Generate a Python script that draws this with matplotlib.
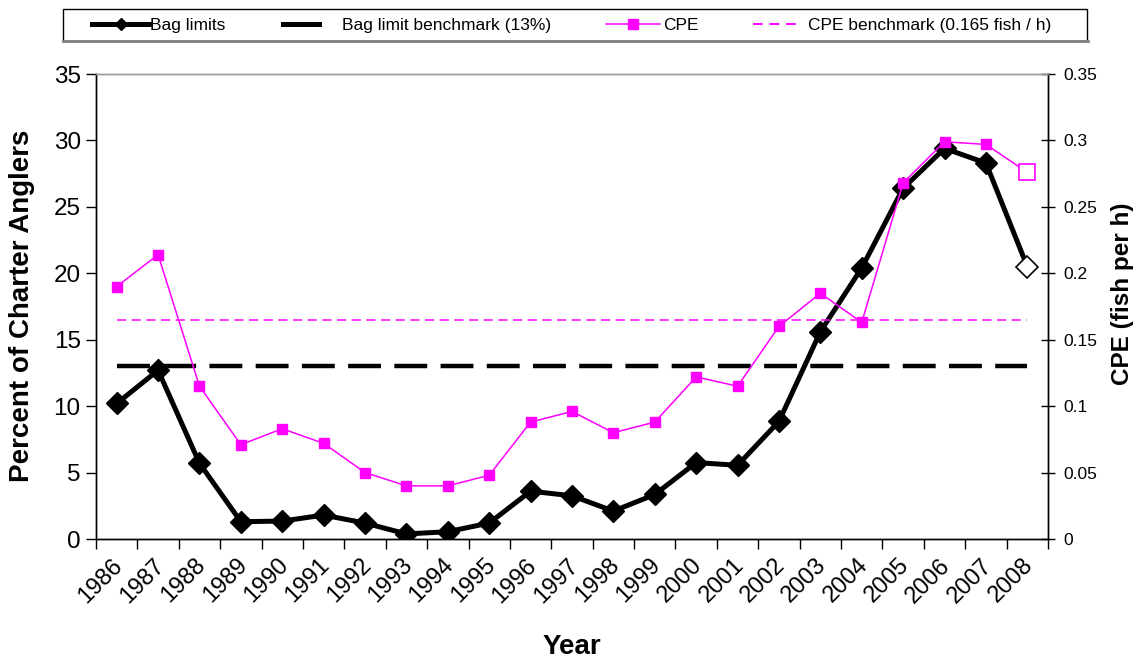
import matplotlib
matplotlib.use("Agg")
import matplotlib.pyplot as plt
import matplotlib.transforms as mtransforms
import numpy as np
from matplotlib.lines import Line2D
from matplotlib.patches import Rectangle
from matplotlib.ticker import FuncFormatter, FixedLocator

plt.rcParams['font.family'] = ['Liberation Sans', 'DejaVu Sans']

years = [str(y) for y in range(1986, 2009)]
bag_limits = [10.2, 12.7, 5.7, 1.3, 1.35, 1.8, 1.2, 0.38, 0.55, 1.2, 3.6, 3.25,
              2.1, 3.35, 5.75, 5.55, 8.85, 15.6, 20.4, 26.4, 29.4, 28.3, 20.5]
cpe = [0.190, 0.214, 0.115, 0.071, 0.083, 0.072, 0.050, 0.040, 0.040, 0.048,
       0.088, 0.096, 0.080, 0.088, 0.122, 0.115, 0.160, 0.185, 0.163, 0.268,
       0.299, 0.297, 0.276]
bag_benchmark = 13.0
cpe_benchmark = 0.165
legend_labels = ['Bag limits', 'Bag limit benchmark (13%)', 'CPE',
                 'CPE benchmark (0.165 fish / h)']

MAG = '#FF00FF'
W, H = 1138, 658

fig = plt.figure(figsize=(W/100, H/100), dpi=100)
ax = fig.add_axes([96/W, 1-539/H, (1048-96)/W, (539-74)/H])
ax2 = ax.twinx()

x = np.arange(len(years))

# left axis: bag limits
ax.plot(x, bag_limits, color='black', lw=3.6, zorder=3)
ax.plot(x[:-1], bag_limits[:-1], ls='none', marker='D', ms=11.5,
        mfc='black', mec='black', zorder=4)
ax.plot(x[-1:], bag_limits[-1:], ls='none', marker='D', ms=11.5,
        mfc='white', mec='black', mew=1.2, zorder=4)
ax.plot([x[0], x[-1]], [bag_benchmark, bag_benchmark], color='black', lw=3.2,
        dashes=(7.4, 3.0), zorder=2)

# right axis: CPE
ax2.plot(x, cpe, color=MAG, lw=1.1, zorder=3)
ax2.plot(x[:-1], cpe[:-1], ls='none', marker='s', ms=7.5,
         mfc=MAG, mec=MAG, zorder=4)
ax2.plot(x[-1:], cpe[-1:], ls='none', marker='s', ms=11.5,
         mfc='white', mec=MAG, mew=1.2, zorder=4)
ax2.plot([x[0], x[-1]], [cpe_benchmark, cpe_benchmark], color=MAG, lw=1.1,
         dashes=(6, 3.6), zorder=2)

ax.set_xlim(-0.5, len(years) - 0.5)
ax.set_ylim(0, 35)
ax2.set_ylim(0, 0.35)
ax.set_yticks(np.arange(0, 36, 5))
ax2.set_yticks(np.arange(0, 0.351, 0.05))
ax2.yaxis.set_major_formatter(FuncFormatter(
    lambda v, p: f"{v:.2f}".rstrip('0').rstrip('.') if abs(v) > 1e-9 else "0"))

# category axis: ticks at boundaries, labels at centres
ax.xaxis.set_major_locator(FixedLocator(np.arange(-0.5, len(years), 1.0)))
ax.xaxis.set_minor_locator(FixedLocator(x))
ax.set_xticklabels([], minor=False)
ax.set_xticklabels(years, minor=True, rotation=45, ha='right',
                   rotation_mode='anchor', fontsize=17)
ax.tick_params(axis='x', which='major', direction='out', length=7, width=1)
ax.tick_params(axis='x', which='minor', length=0, pad=11)
offset = mtransforms.ScaledTranslation(-5/100, 0, fig.dpi_scale_trans)
for lab in ax.xaxis.get_minorticklabels():
    lab.set_transform(lab.get_transform() + offset)
ax.tick_params(axis='y', direction='out', length=7, width=1, labelsize=17.5, pad=4)
ax2.tick_params(axis='y', direction='inout', length=10, width=1, labelsize=12.5, pad=6)

for a in (ax, ax2):
    a.spines['top'].set_color('#999999')
    a.spines['top'].set_linewidth(1.0)
    for s in ('left', 'right', 'bottom'):
        a.spines[s].set_color('black')
        a.spines[s].set_linewidth(1.0)

fig.text(572/W, 1-647/H, 'Year', fontsize=20, fontweight='bold',
         ha='center', va='center')
fig.text(22/W, 1-306/H, 'Percent of Charter Anglers', fontsize=20,
         fontweight='bold', rotation=90, ha='center', va='center')
fig.text(1122/W, 1-294/H, 'CPE (fish per h)', fontsize=17.5,
         fontweight='bold', rotation=90, ha='center', va='center')

# legend frame
fig.add_artist(Rectangle((63/W, 1-41/H), (1087-63)/W, 32/H,
                         transform=fig.transFigure, facecolor='white',
                         edgecolor='black', lw=1.0, zorder=5))
fig.add_artist(Line2D([63/W, 1088/W], [1-41/H, 1-41/H], transform=fig.transFigure,
                      color='#808080', lw=2.0, zorder=6))

handles = [
    Line2D([], [], color='black', lw=3.6, marker='D', ms=6),
    Line2D([], [], color='black', lw=3.6),
    Line2D([], [], color=MAG, lw=1.1, marker='s', ms=7),
    Line2D([], [], color=MAG, lw=1.4, dashes=(5, 3.5)),
]
fs = 12.5
px = fs * 100 / 72.0
starts = [92, 283, 606, 753]
hlen = [57, 36, 54, 47]
textstart = [150, 342, 663, 808]
for h, lab, s, hl, ts in zip(handles, legend_labels, starts, hlen, textstart):
    lg = fig.legend([h], [lab], loc='center left',
                    bbox_to_anchor=(s/W, 1-25/H), frameon=False, fontsize=fs,
                    handlelength=hl/px, handletextpad=(ts-s-hl)/px,
                    borderpad=0, borderaxespad=0)
    lg.set_zorder(7)

fig.savefig('out.png', dpi=100)
